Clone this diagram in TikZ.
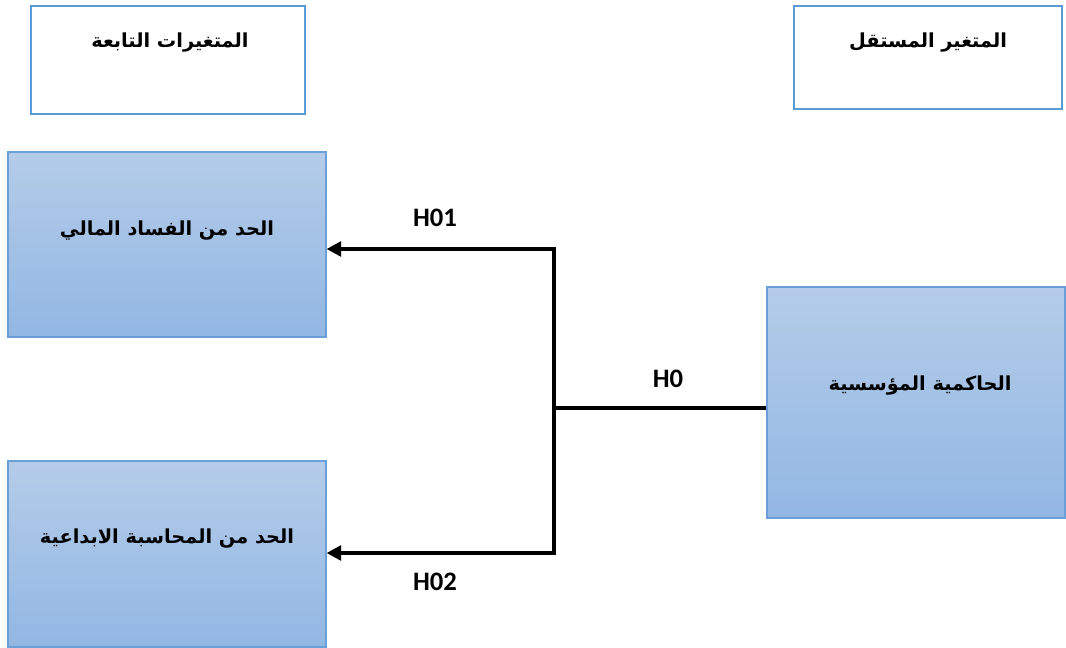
\documentclass[tikz,border=0pt]{standalone}
\usepackage{fontspec}
\setmainfont{Carlito}
\newfontfamily\arabicfont[Script=Arabic]{DejaVu Sans}
\TeXXeTstate=1
\usetikzlibrary{arrows.meta, positioning}

\definecolor{hdblue}{RGB}{91,155,213}
\definecolor{bxblue}{RGB}{106,159,216}
\definecolor{topblue}{RGB}{180,204,233}
\definecolor{botblue}{RGB}{146,183,227}

\begin{document}
\begin{tikzpicture}[x=0.75pt, y=-0.75pt,
  head/.style={draw=hdblue, line width=1.6pt, fill=white},
  var/.style={draw=bxblue, line width=0.8pt, top color=topblue, bottom color=botblue},
  ar/.style={font=\arabicfont\bfseries\fontsize{14.5}{17}\selectfont},
  hyp/.style={font=\bfseries\fontsize{20}{24}\selectfont},
  link/.style={line width=2.8pt, black},
  tip/.style={-{Triangle[length=11pt, width=11pt]}}]

\useasboundingbox (0,0) rectangle (1066,648);

% header boxes
\node (hdep)[head, minimum width=205.5pt, minimum height=81pt] at (168,60) {};
\node (hind)[head, minimum width=201pt, minimum height=77.25pt] at (928,57.5) {};
\node (tdep)[ar] at (170,43) {\beginR المتغيرات التابعة\endR};
\node (tind)[ar] at (928,43) {\beginR المتغير المستقل\endR};

% variables
\node (fin)[var, minimum width=238.5pt, minimum height=138.75pt] at (167,244.5) {};
\node (acc)[var, minimum width=238.5pt, minimum height=139.5pt] at (167,554) {};
\node (gov)[var, minimum width=223.5pt, minimum height=173.25pt] at (916,402.5) {};
\node (tfin)[ar] at (167,231) {\beginR الحد من الفساد المالي\endR};
\node (tacc)[ar] at (167,539) {\beginR الحد من المحاسبة الابداعية\endR};
\node (tgov)[ar] at (920,386) {\beginR الحاكمية المؤسسية\endR};

% links
\coordinate (j) at (554,408);
\coordinate (ea) at (fin.east |- 0,249);
\coordinate (eb) at (acc.east |- 0,553);
\draw[link] (gov.west |- j) -- (j);
\draw[link, tip] (j) |- (ea);
\draw[link, tip] (j) |- (eb);

\node (h01)[hyp] at (435,218) {H01};
\node (h0)[hyp] at (668,379) {H0};
\node (h02)[hyp] at (435,582) {H02};
\end{tikzpicture}
\end{document}
